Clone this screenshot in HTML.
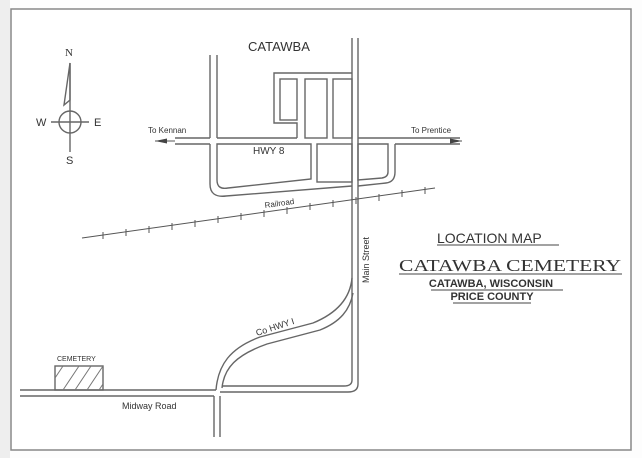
<!DOCTYPE html>
<html><head><style>
html,body{margin:0;padding:0;background:#fff;}
svg{display:block;}
text{font-family:"Liberation Sans",sans-serif;fill:#333;}
text.serif{font-family:"Liberation Serif",serif;}
</style></head><body>
<svg width="642" height="458" viewBox="0 0 642 458" xmlns="http://www.w3.org/2000/svg">
<rect x="0" y="0" width="642" height="458" fill="#fdfdfd"/>
<rect x="0" y="0" width="10" height="458" fill="#eee"/>
<rect x="11" y="9" width="620" height="441" fill="#fff" stroke="#888" stroke-width="1.5"/>
<g fill="none" stroke="#666" stroke-width="1.4">
<circle cx="70" cy="122" r="11"/>
<line x1="70" y1="63" x2="70" y2="152"/>
<line x1="51" y1="122" x2="89" y2="122"/>
<path d="M70 63 L64 105 L70 100 Z"/>
<line x1="210" y1="55" x2="210" y2="138"/>
<line x1="217" y1="55" x2="217" y2="138"/>
<path d="M210 144 L210 184 Q210 198 226 196 L352 186"/>
<path d="M217 144 L217 180 Q217 190 228 188 L311 179 L311 144 Z"/>
<line x1="175" y1="138" x2="210" y2="138"/>
<line x1="175" y1="144" x2="210" y2="144"/>
<line x1="217" y1="138" x2="297" y2="138"/>
<line x1="358" y1="138" x2="460" y2="138"/>
<line x1="395" y1="144" x2="460" y2="144"/>
<path d="M352 73 L274 73 L274 123 L297 123 L297 138"/>
<rect x="280" y="79" width="17" height="41"/>
<rect x="305" y="79" width="22" height="59"/>
<rect x="333" y="79" width="19" height="59"/>
<rect x="317" y="144" width="35" height="38"/>
<path d="M358 144 L388 144 L388 172 Q388 177 382 178 L358 180 Z"/>
<path d="M358 186 L386 183 Q395 182 395 172 L395 144"/>
<path d="M352 38 L352 380 Q352 386 344 386 L222 386"/>
<path d="M358 38 L358 384 Q358 392 348 392 L220 392"/>
<line x1="20" y1="390" x2="216" y2="390"/>
<line x1="20" y1="396" x2="214" y2="396"/>
<line x1="214" y1="396" x2="214" y2="437"/>
<line x1="220" y1="396" x2="220" y2="437"/>
<path d="M216 390 C218 365 230 348 260 337 L313 323 C335 314 350 300 352 278"/>
<path d="M222 388 C224 368 236 355 267 344 L320 330 C340 322 350 310 353 293"/>
<rect x="55" y="366" width="48" height="24"/>
</g>
<g stroke="#777" stroke-width="1">
<line x1="63" y1="390" x2="79" y2="366"/>
<line x1="75" y1="390" x2="91" y2="366"/>
<line x1="87" y1="390" x2="103" y2="366"/>
<line x1="55" y1="378" x2="63" y2="366"/>
<line x1="99" y1="390" x2="103" y2="384"/>
</g>
<g stroke="#555" stroke-width="1">
<line x1="82" y1="238" x2="435" y2="188"/>
<line x1="103" y1="232" x2="103" y2="239"/><line x1="126" y1="229" x2="126" y2="236"/>
<line x1="149" y1="226" x2="149" y2="233"/><line x1="172" y1="223" x2="172" y2="230"/>
<line x1="195" y1="220" x2="195" y2="227"/><line x1="218" y1="216" x2="218" y2="223"/>
<line x1="241" y1="213" x2="241" y2="220"/><line x1="264" y1="210" x2="264" y2="217"/>
<line x1="287" y1="207" x2="287" y2="214"/><line x1="310" y1="203" x2="310" y2="210"/>
<line x1="333" y1="200" x2="333" y2="207"/><line x1="356" y1="197" x2="356" y2="204"/>
<line x1="379" y1="194" x2="379" y2="201"/><line x1="402" y1="190" x2="402" y2="197"/>
<line x1="425" y1="187" x2="425" y2="194"/>
<line x1="155" y1="141" x2="175" y2="141"/>
<line x1="460" y1="141" x2="462" y2="141"/>
</g>
<path d="M155 141 L167 138.5 L167 143.5 Z" fill="#444"/>
<path d="M462 141 L450 138.5 L450 143.5 Z" fill="#444"/>
<text x="65" y="56" font-size="11" class="serif">N</text>
<text x="36" y="126" font-size="11">W</text>
<text x="94" y="126" font-size="11">E</text>
<text x="66" y="164" font-size="11">S</text>
<text x="248" y="51" font-size="13">CATAWBA</text>
<text x="148" y="133" font-size="8">To Kennan</text>
<text x="411" y="133" font-size="8">To Prentice</text>
<text x="253" y="154" font-size="10">HWY 8</text>
<text x="0" y="0" font-size="8" transform="translate(265,208) rotate(-8)">Railroad</text>
<text x="0" y="0" font-size="9" transform="translate(369,283) rotate(-90)">Main Street</text>
<text x="0" y="0" font-size="9" transform="translate(257,336) rotate(-18)">Co HWY I</text>
<text x="57" y="361" font-size="7">CEMETERY</text>
<text x="122" y="409" font-size="9">Midway  Road</text>
<text x="437" y="243" font-size="14">LOCATION  MAP</text>
<line x1="437" y1="245" x2="559" y2="245" stroke="#444"/>
<text x="399" y="271" font-size="17" class="serif" textLength="222" lengthAdjust="spacingAndGlyphs">CATAWBA  CEMETERY</text>
<line x1="399" y1="274" x2="622" y2="274" stroke="#444"/>
<text x="491" y="287" font-size="11" font-weight="bold" text-anchor="middle">CATAWBA, WISCONSIN</text>
<line x1="431" y1="290" x2="563" y2="290" stroke="#444"/>
<text x="492" y="300" font-size="11" font-weight="bold" text-anchor="middle">PRICE COUNTY</text>
<line x1="453" y1="303" x2="531" y2="303" stroke="#444"/>
</svg>
</body></html>
